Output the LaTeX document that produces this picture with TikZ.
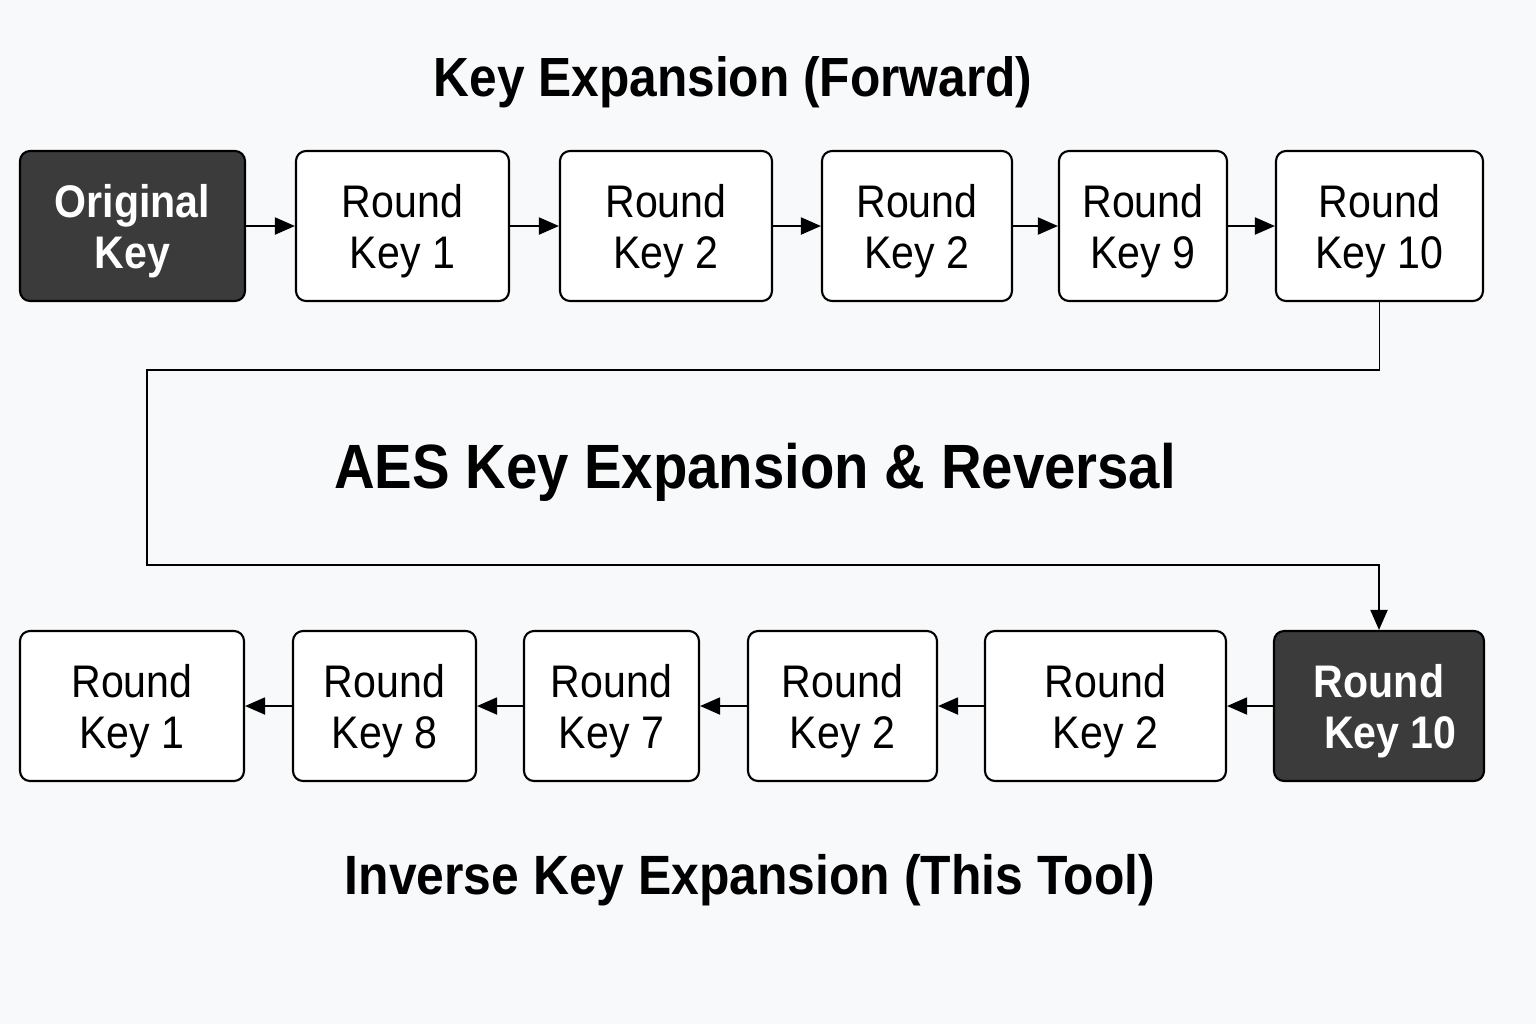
\documentclass[tikz,border=0pt]{standalone}
\usepackage{fontspec}
\setmainfont{Liberation Sans}[FakeStretch=0.9]
\usetikzlibrary{arrows.meta,positioning,calc}
\definecolor{bgcol}{HTML}{F8F9FB}
\definecolor{darkcol}{HTML}{3B3B3B}

\begin{document}
\begin{tikzpicture} [keybox/.style={draw, line width=1.2pt, rounded corners=0.2cm,
            fill=white, minimum height=3cm, inner sep=0, align=center, text depth=0pt,
            font=\fontsize{26}{29}\selectfont},
          darkbox/.style={keybox, fill=darkcol, text=white,
            font=\fontsize{26}{29}\selectfont\bfseries},
          link/.style={line width=1.1pt, -{Triangle[length=0.4cm, width=0.34cm]}},
          heading/.style={font=\bfseries}]
          \fill[bgcol] (0,0) rectangle (30.72,-20.48);
          \useasboundingbox (0,0) rectangle (30.72,-20.48);
          % forward row
          \node[darkbox, minimum width=4.5cm] (orig) at (2.65,-4.52) {Original\\Key};
          \node[keybox, minimum width=4.26cm] (fk1) at (8.05,-4.52) {Round\\Key 1};
          \node[keybox, minimum width=4.24cm] (fk2) at (13.32,-4.52) {Round\\Key 2};
          \node[keybox, minimum width=3.8cm] (fk2b) at (18.34,-4.52) {Round\\Key 2};
          \node[keybox, minimum width=3.36cm] (fk9) at (22.86,-4.52) {Round\\Key 9};
          \node[keybox, minimum width=4.14cm] (fk10) at (27.59,-4.52) {Round\\Key 10};
          % inverse row
          \node[keybox, minimum width=4.48cm] (ik1) at (2.64,-14.12) {Round\\Key 1};
          \node[keybox, minimum width=3.66cm] (ik8) at (7.69,-14.12) {Round\\Key 8};
          \node[keybox, minimum width=3.5cm] (ik7) at (12.23,-14.12) {Round\\Key 7};
          \node[keybox, minimum width=3.78cm] (ik2) at (16.85,-14.12) {Round\\Key 2};
          \node[keybox, minimum width=4.82cm] (ik2b) at (22.11,-14.12) {Round\\Key 2};
          \node[darkbox, minimum width=4.2cm] (ik10) at (27.58,-14.12) {Round\\\ \ Key 10};
          % headings
          \node[heading, font=\fontsize{31.4}{36}\selectfont\bfseries] (fwdtitle) at (14.66,-1.64) {Key Expansion (Forward)};
          \node[heading, font=\fontsize{35.6}{40}\selectfont\bfseries] (maintitle) at (15.1,-9.45) {AES Key Expansion \& Reversal};
          \node[heading, font=\fontsize{31.5}{36}\selectfont\bfseries] (invtitle) at (15.0,-17.6) {Inverse Key Expansion (This Tool)};
          % links
          \foreach \a/\b in {orig/fk1, fk1/fk2, fk2/fk2b, fk2b/fk9, fk9/fk10,
            ik10/ik2b, ik2b/ik2, ik2/ik7, ik7/ik8, ik8/ik1}
            \draw[link] (\a) -- (\b);
          \coordinate (turnA) at (2.94,-7.4);
          \coordinate (turnB) at (2.94,-11.3);
          \draw[link] (fk10.south) |- (turnA) -- (turnB) -| (ik10.north);
        \end{tikzpicture}
\end{document}
